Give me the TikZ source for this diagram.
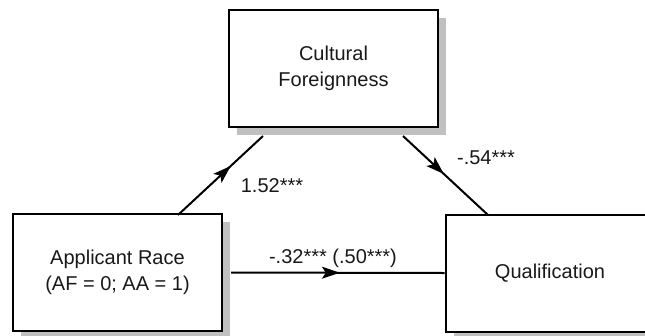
\documentclass[tikz,border=0pt]{standalone}
\usepackage{fontspec}
\setmainfont{Liberation Sans}
\usetikzlibrary{arrows.meta,decorations.markings,shadows,calc}
\definecolor{shadowgray}{RGB}{192,192,192}
\definecolor{txt}{RGB}{25,25,25}
\begin{document}
\begin{tikzpicture}[x=1pt,y=-1pt,
  box/.style={draw=black,line width=2pt,fill=white,minimum width=209pt,minimum height=117pt,
    inner sep=0pt,align=center,text=txt,font=\fontsize{20}{26}\selectfont,
    drop shadow={shadow xshift=8pt,shadow yshift=-8pt,fill=shadowgray,draw=none,opacity=1}},
  lbl/.style={text=txt,font=\fontsize{20}{24}\selectfont,inner sep=0pt},
  path/.style={draw=black,line width=2pt},
  midarrow/.style={postaction={decorate,decoration={markings,
    mark=at position #1 with {\arrow{Stealth[length=18pt,width=12pt,inset=4pt]}}}}}
]
\useasboundingbox (0,0) rectangle (645,335);
\clip (0,0) rectangle (645,335);
\fill[white] (0,0) rectangle (645,335);

\node[box] (cf) at (333.5,68.5) {Cultural\\Foreignness};
\node[box] (ar) at (117.5,272.5) {Applicant Race\\(AF = 0; AA = 1)};
\node[box] (qu) at (550,273) {Qualification};

\coordinate (a1) at (178,215);
\coordinate (a2) at (263,136);
\coordinate (b1) at (403,136);
\coordinate (b2) at (488,215);
\coordinate (c1) at ($(ar.east)+(8,0)$);

\draw[path,midarrow=0.62] (a1) -- (a2);
\draw[path,midarrow=0.48] (b1) -- (b2);
\draw[path,midarrow=0.51] (c1) -- (qu.west);

\node[lbl] (l1) at (272,186) {1.52***};
\node[lbl] (l2) at (486,158) {-.54***};
\node[lbl] (l3) at (333,258) {-.32*** (.50***)};
\end{tikzpicture}
\end{document}
